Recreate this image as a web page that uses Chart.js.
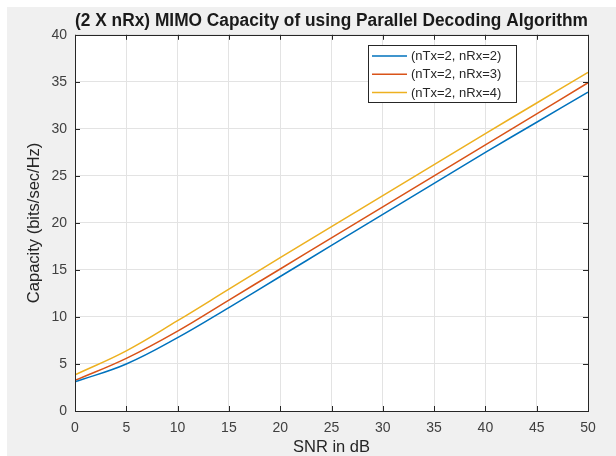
<!DOCTYPE html>
<html>
<head>
<meta charset="utf-8">
<script src="https://cdn.jsdelivr.net/npm/chart.js@4.4.1/dist/chart.umd.min.js"></script>
<style>
  html, body { margin: 0; padding: 0; background: #fff; }
  canvas { display: block; }
</style>
</head>
<body>
<canvas id="myChart" width="616" height="456"></canvas>
<script>
// SNR (dB) と各受信アンテナ数の容量
const snrDb = [0, 5, 10, 15, 20, 25, 30, 35, 40, 45, 50];
const capRx2 = [3.1, 5.0, 7.8, 11.0, 14.3, 17.6, 20.9, 24.2, 27.5, 30.7, 33.9];
const capRx3 = [3.25, 5.6, 8.5, 11.8, 15.1, 18.4, 21.7, 25.0, 28.3, 31.6, 34.9];
const capRx4 = [3.85, 6.4, 9.6, 12.95, 16.3, 19.6, 22.9, 26.2, 29.5, 32.75, 36.0];
const seriesLabels = ['(nTx=2, nRx=2)', '(nTx=2, nRx=3)', '(nTx=2, nRx=4)'];
const seriesColors = ['#0072BD', '#D95319', '#EDB120'];
const xTicks = [0, 5, 10, 15, 20, 25, 30, 35, 40, 45, 50];
const yTicks = [0, 5, 10, 15, 20, 25, 30, 35, 40];

const FONT = "'Liberation Sans', Arial, sans-serif";

const toPoints = (ys) => ys.map((y, i) => ({ x: snrDb[i], y: y }));

// 背景（MATLAB風のグレー）と白いプロット領域
const bgPlugin = {
  id: 'bg',
  beforeDraw(chart) {
    const { ctx, chartArea: a } = chart;
    ctx.save();
    ctx.fillStyle = '#ffffff';
    ctx.fillRect(0, 0, chart.width, chart.height);
    ctx.fillStyle = '#f0f0f0';
    ctx.fillRect(7, 7, chart.width - 7, chart.height - 7);
    ctx.fillStyle = '#ffffff';
    ctx.fillRect(a.left, a.top, a.right - a.left, a.bottom - a.top);
    ctx.restore();
  }
};

// 枠線・内向きの目盛り・凡例
const boxPlugin = {
  id: 'box',
  afterDraw(chart) {
    const { ctx, chartArea: a, scales } = chart;
    ctx.save();
    ctx.strokeStyle = '#262626';
    ctx.lineWidth = 1;
    ctx.beginPath();
    xTicks.forEach(v => {
      const px = Math.round(scales.x.getPixelForValue(v)) + 0.5;
      ctx.moveTo(px, a.bottom); ctx.lineTo(px, a.bottom - 5);
      ctx.moveTo(px, a.top); ctx.lineTo(px, a.top + 5);
    });
    yTicks.forEach(v => {
      const py = Math.round(scales.y.getPixelForValue(v)) + 0.5;
      ctx.moveTo(a.left, py); ctx.lineTo(a.left + 5, py);
      ctx.moveTo(a.right, py); ctx.lineTo(a.right - 5, py);
    });
    ctx.stroke();
    ctx.strokeRect(Math.round(a.left) + 0.5, Math.round(a.top) + 0.5,
      Math.round(a.right - a.left), Math.round(a.bottom - a.top));

    // 凡例
    const lx = 368, ly = 45, lw = 148, lh = 57;
    ctx.fillStyle = '#ffffff';
    ctx.fillRect(lx, ly, lw, lh);
    ctx.strokeStyle = '#262626';
    ctx.strokeRect(lx + 0.5, ly + 0.5, lw, lh);
    ctx.font = '13px ' + FONT;
    ctx.textBaseline = 'middle';
    ctx.textAlign = 'left';
    chart.data.datasets.forEach((ds, i) => {
      const y = ly + 11 + i * 18.3;
      ctx.strokeStyle = ds.borderColor;
      ctx.lineWidth = 1.5;
      ctx.beginPath();
      ctx.moveTo(lx + 4, y); ctx.lineTo(lx + 39, y);
      ctx.stroke();
      ctx.fillStyle = '#262626';
      ctx.fillText(ds.label, lx + 43, y + 0.5);
    });
    ctx.restore();
  }
};

const ctx = document.getElementById('myChart').getContext('2d');

new Chart(ctx, {
  type: 'line',
  data: {
    datasets: [capRx2, capRx3, capRx4].map((vals, i) => ({
      label: seriesLabels[i],
      data: toPoints(vals),
      borderColor: seriesColors[i],
      borderWidth: 1.5,
      pointRadius: 0,
      fill: false,
      tension: 0.4
    }))
  },
  options: {
    responsive: false,
    animation: false,
    layout: {
      padding: { left: 0, right: 28, top: 0, bottom: 0 }
    },
    scales: {
      x: {
        type: 'linear',
        min: 0,
        max: 50,
        afterFit: (scale) => { scale.height = 45; },
        afterBuildTicks: (scale) => { scale.ticks = xTicks.map(v => ({ value: v })); },
        grid: { color: '#e3e3e3', drawTicks: false },
        border: { display: false },
        ticks: {
          padding: 9,
          maxRotation: 0,
          color: '#404040',
          font: { family: FONT, size: 14 }
        },
        title: {
          display: true,
          text: 'SNR in dB',
          color: '#262626',
          font: { family: FONT, size: 16.5, lineHeight: 1 },
          padding: { top: 0, bottom: 0 }
        }
      },
      y: {
        min: 0,
        max: 40,
        afterFit: (scale) => { scale.width = 75; },
        afterBuildTicks: (scale) => { scale.ticks = yTicks.map(v => ({ value: v })); },
        grid: { color: '#e3e3e3', drawTicks: false },
        border: { display: false },
        ticks: {
          padding: 8,
          color: '#404040',
          font: { family: FONT, size: 14 }
        },
        title: {
          display: true,
          text: 'Capacity (bits/sec/Hz)',
          color: '#262626',
          font: { family: FONT, size: 16.5, lineHeight: 1 },
          padding: { top: 26, bottom: 0 }
        }
      }
    },
    plugins: {
      legend: { display: false },
      tooltip: { enabled: false },
      title: {
        display: true,
        fullSize: false,
        text: '(2 X nRx) MIMO Capacity of using Parallel Decoding Algorithm',
        color: '#1a1a1a',
        font: { family: FONT, size: 18, weight: 'bold', lineHeight: 1.1 },
        padding: { top: 11, bottom: 4 }
      }
    }
  },
  plugins: [bgPlugin, boxPlugin]
});
</script>
</body>
</html>
